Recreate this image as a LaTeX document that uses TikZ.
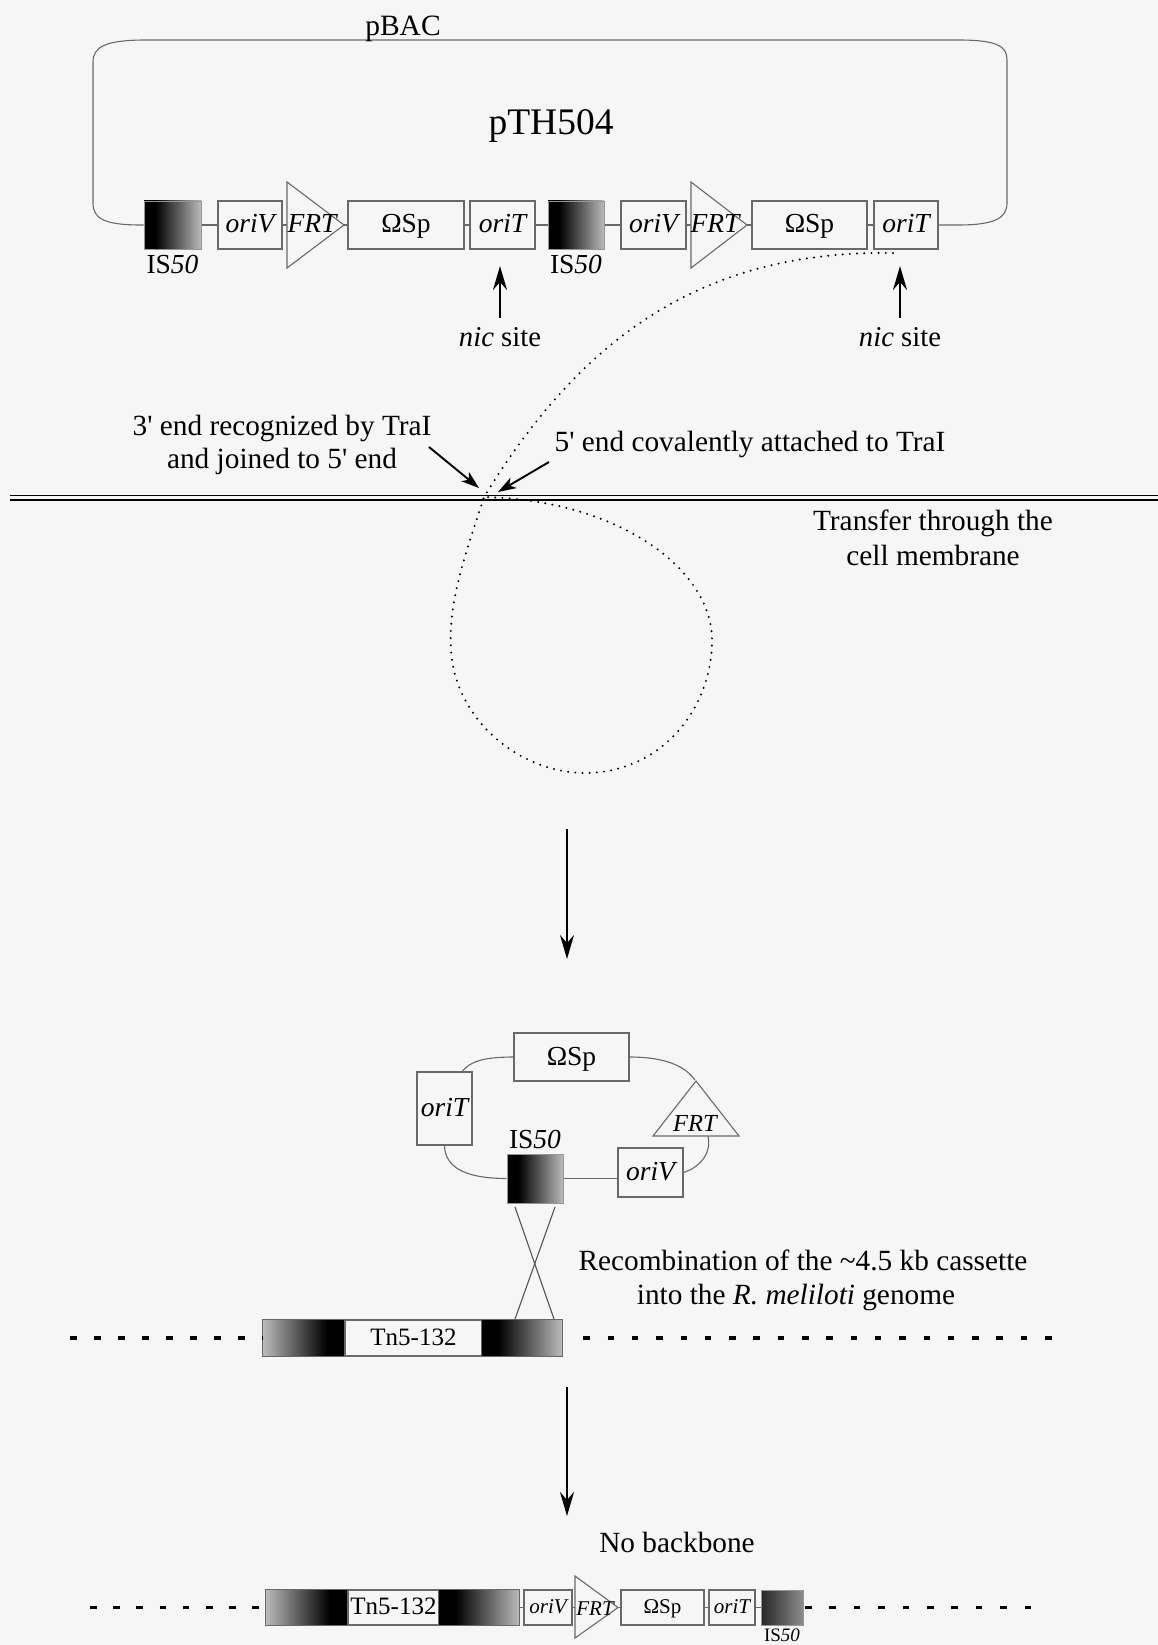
\documentclass[tikz,border=0pt]{standalone}
\usepackage{fontspec}
\setmainfont{Liberation Serif}[Ligatures=TeXOff]
\usetikzlibrary{arrows.meta}
\definecolor{bg}{RGB}{246,246,246}
\definecolor{ln}{RGB}{105,105,105}
\pgfdeclarelayer{back}
\pgfsetlayers{back,main}
\pgfdeclarehorizontalshading{isL}{100bp}{color(0bp)=(black); color(25bp)=(black); color(35bp)=(black); color(75bp)=(black!27); color(100bp)=(black!27)}
\pgfdeclarehorizontalshading{isR}{100bp}{color(0bp)=(black!27); color(25bp)=(black!27); color(64bp)=(black); color(75bp)=(black); color(100bp)=(black)}
\pgfdeclarehorizontalshading{isD}{100bp}{color(0bp)=(black!85); color(25bp)=(black!85); color(75bp)=(black!45); color(100bp)=(black!45)}
\newcommand{\fsz}[1]{\fontsize{#1}{#1}\selectfont}
\begin{document}
\begin{tikzpicture}[x=1pt,y=-1pt,
 box/.style={draw=ln, line width=1.1pt, fill=bg, inner sep=0pt},
 isbox/.style={draw=ln!70, line width=0.6pt, inner sep=0pt, shade, shading=isL},
 wire/.style={draw=ln, line width=1.1pt},
 tri/.style={draw=ln, line width=1.1pt, fill=bg, line join=miter},
 bigarrow/.style={line width=2.4pt, -{Stealth[length=24pt,width=14pt,inset=8pt]}},
 smallarrow/.style={line width=1.9pt, -{Stealth[length=18pt,width=12pt,inset=5pt]}},
 dots/.style={line width=2.2pt, line cap=round, dash pattern=on 0pt off 7.2pt},
 gdash/.style={line width=3.3pt},
 f27/.style={font=\fsz{27.5}, text height=19.3pt, text depth=3.3pt},
 f29/.style={font=\fsz{29.3}, inner sep=0pt, anchor=base},
 f21/.style={font=\fsz{21}, text height=14.7pt, text depth=2.5pt},
 f25/.style={font=\fsz{25}, text height=17.5pt, text depth=3pt},
]
\begin{pgfonlayer}{back}
\fill[bg] (0,0) rectangle (1158,1645);
\end{pgfonlayer}
\useasboundingbox (0,0) rectangle (1158,1645);

% ---------- top plasmid ----------
\node[f29, font=\fsz{29.5}] (pbac) at (403,36) {pBAC};
\node[f29, font=\fsz{37.5}] (title) at (551,135) {pTH504};

\node[isbox, minimum width=57pt, minimum height=48pt] (isA) at (172.5,225) {};
\node[box, f27, minimum width=64pt, minimum height=48pt] (oriVA) at (250,225) {\itshape oriV};
\draw[tri] (287,182) -- (287,268) -- (344,225) -- cycle;
\node[font=\fsz{27.5}, inner sep=0pt, anchor=base] (frtA) at (312,233) {\itshape FRT};
\node[box, f27, minimum width=116pt, minimum height=48pt] (spA) at (406,225) {ΩSp};
\node[box, f27, minimum width=65pt, minimum height=48pt] (oriTA) at (502.5,225) {\itshape oriT};
\node[isbox, minimum width=56pt, minimum height=48pt] (isA2) at (576,225) {};
\node[box, f27, minimum width=65pt, minimum height=48pt] (oriVA2) at (653.5,225) {\itshape oriV};
\draw[tri] (691,182) -- (691,268) -- (747,225) -- cycle;
\node[font=\fsz{27.5}, inner sep=0pt, anchor=base] (frtA2) at (715,233) {\itshape FRT};
\node[box, f27, minimum width=115pt, minimum height=48pt] (spA2) at (809.5,225) {ΩSp};
\node[box, f27, minimum width=64pt, minimum height=48pt] (oriTA2) at (906,225) {\itshape oriT};

\node[font=\fsz{27.5}, inner sep=0pt, anchor=base] (isAl) at (172.5,273) {IS\textit{50}};
\node[font=\fsz{27.5}, inner sep=0pt, anchor=base] (isA2l) at (576,273) {IS\textit{50}};

\node[font=\fsz{28.7}, inner sep=0pt, anchor=base] (nic1) at (500,346) {\textit{nic} site};
\node[font=\fsz{28.7}, inner sep=0pt, anchor=base] (nic2) at (900,346) {\textit{nic} site};
\coordinate (nt1) at (500,266);
\coordinate (nt2) at (900,266);
\draw[bigarrow] ([yshift=9pt]nic1.north) -- (nt1);
\draw[bigarrow] ([yshift=9pt]nic2.north) -- (nt2);

\begin{pgfonlayer}{back}
\draw[wire] (isA.east) -- (oriTA2.west);
\draw[wire] (isA.west) -- (141,225) .. controls (103,225) and (93,218) .. (93,203) -- (93,62)
  .. controls (93,47) and (105,40) .. (146,40) -- (958,40)
  .. controls (997,40) and (1007,46) .. (1007,60) -- (1007,203)
  .. controls (1007,218) and (995,225) .. (958,225) -- (oriTA2.east);
\end{pgfonlayer}

% ---------- single strand and membrane ----------
\coordinate (ss0) at (893,253);
\coordinate (cross) at (484,497);
\draw[dots] (ss0) .. controls (700,250) and (580,340) .. (cross)
  .. controls (466,553) and (448,600) .. (451,650)
  .. controls (455,720) and (520,773) .. (585,773)
  .. controls (660,773) and (712,710) .. (712,640)
  .. controls (712,570) and (620,500) .. (cross);

\draw[line width=1.7pt] (10,495.5) -- (1158,495.5);
\draw[line width=1.7pt] (10,500) -- (1158,500);

\node[f29] (t3a) at (282,435) {3' end recognized by TraI};
\node[f29] (t3b) at (282,468) {and joined to 5' end};
\node[f29] (t5) at (750,451) {5' end covalently attached to TraI};
\coordinate (a3s) at (429,447);
\coordinate (a3e) at (479,488);
\coordinate (a5s) at (549,462);
\coordinate (a5e) at (498,492);
\draw[smallarrow] (a3s) -- (a3e);
\draw[smallarrow] (a5s) -- (a5e);

\node[f29] (tr1) at (933,530) {Transfer through the};
\node[f29] (tr2) at (933,565) {cell membrane};

\coordinate (d1s) at (567,829);
\coordinate (d1e) at (567,959);
\draw[bigarrow] (d1s) -- (d1e);

% ---------- small circular plasmid ----------
\node[box, f27, minimum width=115pt, minimum height=48pt] (spB) at (571.5,1057) {ΩSp};
\node[box, f27, minimum width=55pt, minimum height=73pt] (oriTB) at (444.5,1108.5) {\itshape oriT};
\draw[tri] (696,1081) -- (739,1136) -- (653,1136) -- cycle;
\node[font=\fsz{24.5}, inner sep=0pt, anchor=base] (frtB) at (695,1131) {\itshape FRT};
\node[box, f27, minimum width=65pt, minimum height=49pt] (oriVB) at (650.5,1172.5) {\itshape oriV};
\node[isbox, minimum width=56pt, minimum height=49pt] (isB) at (535,1178.5) {};
\node[font=\fsz{27.5}, inner sep=0pt, anchor=base] (isBl) at (535,1148) {IS\textit{50}};
\coordinate (frtBtop) at (695,1080);
\coordinate (frtBr) at (708,1136);
\begin{pgfonlayer}{back}
\draw[wire] (spB.west) .. controls (482,1057) and (470,1062) .. ([xshift=17.5pt]oriTB.north);
\draw[wire] (spB.east) .. controls (665,1057) and (685,1066) .. (frtBtop);
\draw[wire] (frtBr) .. controls (712,1155) and (698,1168) .. (oriVB.east);
\draw[wire] (isB.east) -- (oriVB.west |- isB.east);
\draw[wire] (isB.west) .. controls (475,1178.5) and (445,1172) .. (oriTB.south);
\end{pgfonlayer}

\coordinate (x1a) at (515,1207);
\coordinate (x1b) at (554,1319);
\coordinate (x2a) at (555,1207);
\coordinate (x2b) at (515,1319);
\draw[wire, draw=ln!80!black] (x1a) -- (x1b);
\draw[wire, draw=ln!80!black] (x2a) -- (x2b);

\node[f29] (rec1) at (803,1270) {Recombination of the \textasciitilde4.5 kb cassette};
\node[f29] (rec2) at (796,1304) {into the \textit{R. meliloti} genome};

% ---------- genome row 1 ----------
\node[isbox, shading=isR, draw=none, minimum width=82pt, minimum height=36pt] (gl1) at (304,1338) {};
\node[box, f25, minimum width=137pt, minimum height=36pt] (tn1) at (413.5,1338) {Tn5-132};
\node[isbox, draw=none, minimum width=80pt, minimum height=36pt] (gr1) at (522,1338) {};
\draw[wire] (gl1.north west) rectangle (gr1.south east);
\draw[gdash, dash pattern=on 6.5pt off 17.5pt] (70,1338) -- (gl1.west);
\draw[gdash, dash pattern=on 6.5pt off 17.8pt] ([xshift=21pt]gr1.east) -- (1052,1338);

\coordinate (d2s) at (567,1387);
\coordinate (d2e) at (567,1516);
\draw[bigarrow] (d2s) -- (d2e);

\node[f29] (nob) at (677,1552) {No backbone};

% ---------- genome row 2 ----------
\node[isbox, shading=isR, draw=none, minimum width=82pt, minimum height=35pt] (gl2) at (307,1607.5) {};
\node[box, f25, minimum width=91pt, minimum height=35pt] (tn2) at (393.5,1607.5) {Tn5-132};
\node[isbox, draw=none, minimum width=80pt, minimum height=35pt] (gr2) at (479,1607.5) {};
\node[box, f21, minimum width=48pt, minimum height=35pt] (oriVC) at (548,1607.5) {\itshape oriV};
\draw[tri] (575,1576) -- (575,1638) -- (618,1607.5) -- cycle;
\node[font=\fsz{21}, inner sep=0pt, anchor=base] (frtC) at (595,1615) {\itshape FRT};
\node[box, f21, minimum width=83pt, minimum height=35pt] (spC) at (662.5,1607.5) {ΩSp};
\node[box, f21, minimum width=46pt, minimum height=35pt] (oriTC) at (732,1607.5) {\itshape oriT};
\node[isbox, shading=isD, minimum width=42pt, minimum height=35pt] (isC) at (782,1607.5) {};
\node[font=\fsz{19}, inner sep=0pt, anchor=base] (isCl) at (782,1641) {IS\textit{50}};
\draw[wire] (gl2.north west) rectangle (gr2.south east);
\begin{pgfonlayer}{back}
\draw[wire] (gr2.east) -- (isC.west);
\end{pgfonlayer}
\draw[gdash, dash pattern=on 6.5pt off 16.7pt] (90,1607.5) -- (gl2.west);
\draw[gdash, dash pattern=on 6.5pt off 17.9pt] (805,1607.5) -- (1032,1607.5);
\end{tikzpicture}
\end{document}
